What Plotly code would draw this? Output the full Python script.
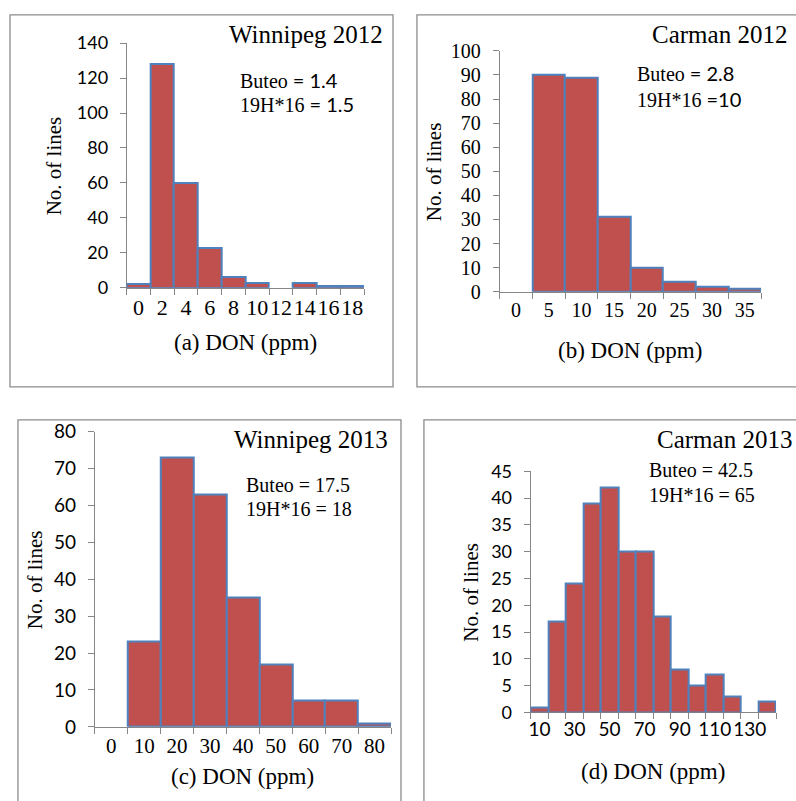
import plotly.graph_objects as go

W, H = 796, 801

SERIF = "Liberation Serif"
SANS = "Lato"
BAR_FILL = "#C0504D"
BAR_EDGE = "#4F81BD"
AXIS_GREY = "#868686"
BOX_GREY = "#8C8C8C"

# ---- data: DON class (ppm) and number of lines per class ----
don_a = ["0", "2", "4", "6", "8", "10", "12", "14", "16", "18"]
lines_a = [2, 128, 60, 23, 6, 3, 0, 3, 1, 1]

don_b = ["0", "5", "10", "15", "20", "25", "30", "35"]
lines_b = [0, 90, 89, 31, 10, 4, 2, 1]

don_c = ["0", "10", "20", "30", "40", "50", "60", "70", "80"]
lines_c = [0, 23, 73, 63, 35, 17, 7, 7, 1]

don_d = ["10", "20", "30", "40", "50", "60", "70", "80", "90", "100",
         "110", "120", "130", "140"]
lines_d = [1, 17, 24, 39, 42, 30, 30, 18, 8, 5, 7, 3, 0, 2]
don_d_shown = ["10", "30", "50", "70", "90", "110", "130"]

titles = ["Winnipeg 2012", "Carman 2012", "Winnipeg 2013", "Carman 2013"]
buteo = ["1.4", "2.8", "17.5", "42.5"]
h19 = ["1.5", "10", "18", "65"]
x_titles = ["(a) DON (ppm)", "(b) DON (ppm)", "(c) DON (ppm)", "(d) DON (ppm)"]
y_max = [140, 100, 80, 45]
y_step = [20, 10, 10, 5]


def fx(px):
    return px / W


def fy(py):
    return 1 - py / H


# pixel geometry of each panel: plot area, frame, text anchors
panels = [
    dict(cats=don_a, vals=lines_a, shown=don_a,
         left=125, right=363, top=32, bottom=284,
         frame=(8, 3, 392, 386),
         ytick=(SANS, 18), xtick=(SERIF, 22),
         title_x=384, title_y=23, title_anchor="right",
         note_x=237, note_y=(70, 95), note_mixed=True,
         xt_y=340, yt_x=53),
    dict(cats=don_b, vals=lines_b, shown=don_b,
         left=499, right=761, top=40, bottom=288,
         frame=(416, 3, 810, 386),
         ytick=(SERIF, 20), xtick=(SERIF, 20),
         title_x=789, title_y=23, title_anchor="right",
         note_x=635, note_y=(63, 90), note_mixed=True,
         xt_y=348, yt_x=433),
    dict(cats=don_c, vals=lines_c, shown=don_c,
         left=93, right=390, top=432, bottom=736,
         frame=(16, 420, 400, 815),
         ytick=(SANS, 19), xtick=(SERIF, 21),
         title_x=389, title_y=440, title_anchor="right",
         note_x=243, note_y=(487, 512), note_mixed=False,
         xt_y=787, yt_x=33),
    dict(cats=don_d, vals=lines_d, shown=don_d_shown,
         left=530, right=776, top=473, bottom=721,
         frame=(423, 420, 815, 815),
         ytick=(SANS, 18), xtick=(SANS, 19),
         title_x=655, title_y=440, title_anchor="left",
         note_x=647, note_y=(472, 497), note_mixed=False,
         xt_y=782, yt_x=470),
]

fig = go.Figure()
annotations = []
shapes = []
layout = {}

for i, p in enumerate(panels):
    k = i + 1
    n = len(p["cats"])
    idx = list(range(n))
    fig.add_trace(go.Bar(
        x=idx, y=p["vals"], width=1,
        xaxis=f"x{k}", yaxis=f"y{k}",
        marker=dict(color=BAR_FILL,
                    line=dict(color=BAR_EDGE,
                              width=[0 if v == 0 else 2 for v in p["vals"]])),
        showlegend=False, hoverinfo="x+y",
    ))

    tick_pos = [p["cats"].index(c) for c in p["shown"]]
    layout[f"xaxis{k}"] = dict(
        domain=[fx(p["left"]), fx(p["right"])],
        anchor=f"y{k}",
        range=[-0.5, n - 0.5],
        tickmode="array", tickvals=tick_pos, ticktext=p["shown"],
        tickangle=0,
        ticks="", showline=True, linecolor=AXIS_GREY, linewidth=1,
        showgrid=False, zeroline=False, layer="below traces",
        tickfont=dict(family=p["xtick"][0], size=p["xtick"][1], color="black"),
        minor=dict(tickmode="array", tickvals=[j - 0.5 for j in range(n + 1)],
                   ticks="outside", ticklen=6, tickcolor=AXIS_GREY,
                   tickwidth=1, showgrid=False),
        fixedrange=True,
    )
    layout[f"yaxis{k}"] = dict(
        domain=[fy(p["bottom"]), fy(p["top"])],
        anchor=f"x{k}",
        range=[0, y_max[i]],
        tickmode="array",
        tickvals=list(range(0, y_max[i] + 1, y_step[i])),
        ticks="outside", ticklen=6, tickcolor=AXIS_GREY, tickwidth=1,
        showline=True, linecolor=AXIS_GREY, linewidth=1,
        showgrid=False, zeroline=False, layer="below traces",
        tickfont=dict(family=p["ytick"][0], size=p["ytick"][1], color="black"),
        ticklabelstandoff=8,
        fixedrange=True,
    )

    # panel frame
    x0, y0, x1, y1 = p["frame"]
    shapes.append(dict(type="rect", xref="paper", yref="paper",
                       x0=fx(x0), x1=fx(x1), y0=fy(y1), y1=fy(y0),
                       line=dict(color=BOX_GREY, width=1.3)))

    # site / year title
    annotations.append(dict(
        text=titles[i], xref="paper", yref="paper",
        x=fx(p["title_x"]), y=fy(p["title_y"]),
        xanchor=p["title_anchor"], yanchor="middle", showarrow=False,
        font=dict(family=SERIF, size=25, color="black")))

    # cultivar notes
    if p["note_mixed"]:
        line1 = f'Buteo <span style="font-family:{SANS}">= {buteo[i]}</span>'
        eq = "= " if i == 0 else "="
        line2 = f'19H*16 <span style="font-family:{SANS}">{eq}{h19[i]}</span>'
    else:
        line1 = f"Buteo = {buteo[i]}"
        line2 = f"19H*16 = {h19[i]}"
    for txt, yy in zip((line1, line2), p["note_y"]):
        annotations.append(dict(
            text=txt, xref="paper", yref="paper",
            x=fx(p["note_x"]), y=fy(yy),
            xanchor="left", yanchor="middle", showarrow=False,
            font=dict(family=SERIF, size=20, color="black")))

    # axis titles
    annotations.append(dict(
        text=x_titles[i], xref="paper", yref="paper",
        x=fx((p["left"] + p["right"]) / 2), y=fy(p["xt_y"]),
        xanchor="center", yanchor="middle", showarrow=False,
        font=dict(family=SERIF, size=23, color="black")))
    annotations.append(dict(
        text="No. of lines", xref="paper", yref="paper",
        x=fx(p["yt_x"]), y=fy((p["top"] + p["bottom"]) / 2),
        xanchor="center", yanchor="middle", showarrow=False, textangle=-90,
        font=dict(family=SERIF, size=21, color="black")))

fig.update_layout(
    width=W, height=H,
    margin=dict(l=0, r=0, t=0, b=0),
    paper_bgcolor="white", plot_bgcolor="rgba(0,0,0,0)",
    bargap=0, showlegend=False,
    annotations=annotations, shapes=shapes,
    **layout,
)

fig.write_html("out.html")
